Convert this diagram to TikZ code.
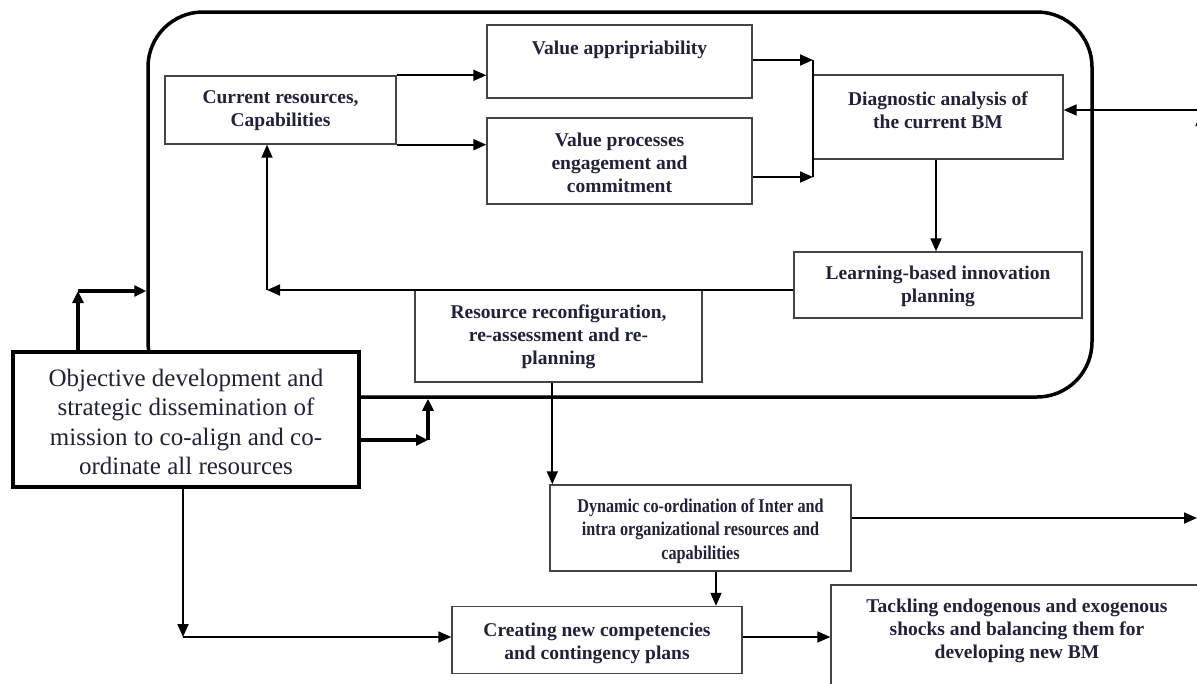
\documentclass[tikz,border=0pt]{standalone}
\usepackage{fontspec}
\setmainfont{Liberation Serif}
\newfontfamily\narrowserif[FakeStretch=0.83]{Liberation Serif}
\usetikzlibrary{arrows.meta}
\definecolor{ink}{RGB}{32,34,58}
\definecolor{edge}{RGB}{68,68,68}
\begin{document}
\begin{tikzpicture}[x=1pt,y={(0pt,-1pt)},
  box/.style={draw=edge,line width=1.4pt,fill=white,inner sep=0pt,rectangle},
  lbl/.style={font=\fontsize{19.5}{23}\selectfont\bfseries,text=ink,align=center,inner sep=0pt},
  narrowlbl/.style={lbl,font=\narrowserif\fontsize{19.5}{23.5}\selectfont\bfseries},
  biglbl/.style={font=\fontsize{25}{29.5}\selectfont,text=ink,align=center,inner sep=0pt},
  link/.style={draw=black,line width=1.8pt,-{Triangle[length=13pt,width=11pt]}},
  plain/.style={draw=black,line width=1.8pt},
  heavy/.style={draw=black,line width=3.5pt},
  heavyarrow/.style={heavy,-{Triangle[length=12pt,width=11pt]}},
]
\useasboundingbox (0,0) rectangle (1197,683);
\clip (0,0) rectangle (1197,683);

% outer rounded frame around the business-model loop
\node[heavy,rounded corners=55pt,minimum width=944pt,minimum height=385pt,inner sep=0pt] (frame) at (620,204.5) {};

% boxes inside the frame
\node[box,minimum width=231pt,minimum height=68pt] (cur) at (280.5,110) {};
\node[lbl] (cur-t) at (280.5,111) {Current resources,\\Capabilities};

\node[box,minimum width=265pt,minimum height=73pt] (va) at (619.5,61.5) {};
\node[lbl] (va-t) at (619.5,50) {Value appripriability};

\node[box,minimum width=265pt,minimum height=86pt] (vp) at (619.5,161) {};
\node[lbl] (vp-t) at (619.5,163) {Value processes\\engagement and\\commitment};

\node[box,minimum width=250pt,minimum height=84pt] (diag) at (938,117) {};
\node[lbl] (diag-t) at (938,110) {Diagnostic analysis of\\the current BM};

\node[box,minimum width=288pt,minimum height=66pt] (learn) at (938,285) {};
\node[lbl] (learn-t) at (938,286) {Learning-based innovation\\planning};

\node[box,minimum width=287pt,minimum height=92pt] (res) at (558.5,336) {};
\node[lbl] (res-t) at (558.5,337) {Resource reconfiguration,\\re-assessment and re-\\planning};

% boxes below the frame
\node[box,minimum width=301pt,minimum height=86pt] (dyn) at (700.5,528) {};
\node[narrowlbl] (dyn-t) at (700.5,531) {Dynamic co-ordination of Inter and\\intra organizational resources and\\capabilities};

\node[box,minimum width=290pt,minimum height=67pt] (cre) at (597,640) {};
\node[lbl] (cre-t) at (597,643) {Creating new competencies\\and contingency plans};

\node[box,minimum width=384pt,minimum height=115pt] (tack) at (1023,642.5) {};
\node[lbl] (tack-t) at (1017,631) {Tackling endogenous and exogenous\\shocks and balancing them for\\developing new BM};

% mission box on the left
\node[box,draw=black,line width=3.5pt,minimum width=346pt,minimum height=135pt] (obj) at (186,419.5) {};
\node[biglbl] (obj-t) at (186,422) {Objective development and\\strategic dissemination of\\mission to co-align and co-\\ordinate all resources};

% connectors inside the frame
\draw[link] (cur.north east) -- (cur.north east -| va.west);
\draw[link] (cur.south east) -- (cur.south east -| vp.west);

\coordinate (ja) at (813,60);
\coordinate (jb) at (813,177);
\draw[link] (va.east |- ja) -- (ja);
\draw[link] (vp.east |- jb) -- (jb);
\draw[plain] (ja) -- (jb);

\coordinate (east) at (1197,110);
\coordinate (eastlow) at (1201,400);
\coordinate (eastup) at (1201,113);
\draw[link] (east) -- (east -| diag.east);
\draw[link] (eastlow) -- (eastup);

\draw[link] ([xshift=-2pt]diag.south) -- ([xshift=-2pt]diag.south |- learn.north);

\coordinate (turn) at (267,290);
\draw[link] (learn.west |- turn) -- (turn);
\draw[link] (turn) -- (turn |- cur.south);

% connectors below the frame
\draw[link] ([xshift=3pt]dyn.north west |- res.south) -- ([xshift=3pt]dyn.north west);

\coordinate (out) at (1197,518);
\draw[link] (dyn.east |- out) -- (out);

\draw[link] ([xshift=15.5pt]dyn.south) -- ([xshift=15.5pt]dyn.south |- cre.north);

\coordinate (lowturn) at (183,637);
\draw[link] (obj.south -| lowturn) -- (lowturn);
\draw[link] (lowturn) -- (lowturn -| cre.west);
\draw[link] (cre.east |- lowturn) -- (lowturn -| tack.west);

% heavy links from the mission box into the frame
\coordinate (upturn) at (78,291);
\draw[heavyarrow] (obj.north -| upturn) -- (upturn);
\draw[heavyarrow] (upturn) -- (upturn -| frame.west);

\coordinate (rturn) at (428,440);
\draw[heavyarrow] (obj.east |- rturn) -- (rturn);
\draw[heavyarrow] (rturn) -- (rturn |- frame.south);
\end{tikzpicture}
\end{document}
